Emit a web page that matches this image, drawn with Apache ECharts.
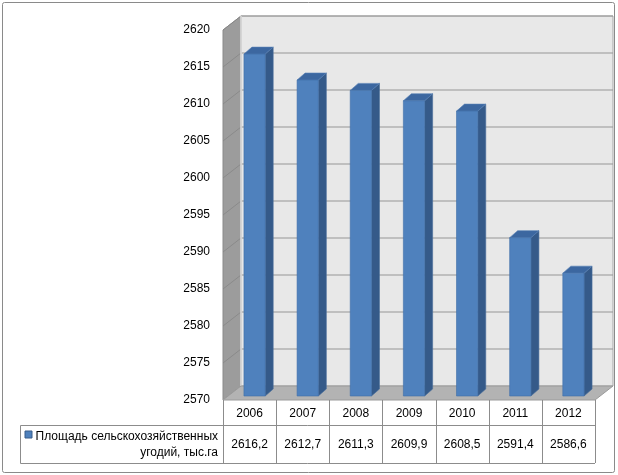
<!DOCTYPE html>
<html><head><meta charset="utf-8">
<script src="https://cdn.jsdelivr.net/npm/echarts@6/dist/echarts.min.js"></script>
<style>html,body{margin:0;padding:0;background:#fff}#c{width:618px;height:475px}</style>
</head><body><div id="c"></div>
<script>
const years = ['2006', '2007', '2008', '2009', '2010', '2011', '2012'];
const values = [2616.2, 2612.7, 2611.3, 2609.9, 2608.5, 2591.4, 2586.6];
const valueLabels = ['2616,2', '2612,7', '2611,3', '2609,9', '2608,5', '2591,4', '2586,6'];
const yTicks = [2570, 2575, 2580, 2585, 2590, 2595, 2600, 2605, 2610, 2615, 2620];
const seriesName = 'Площадь сельскохозяйственных\nугодий, тыс.га';

const yMin = 2570, yMax = 2620, yStep = 5;
const FONT = 'Liberation Sans';
const DX = 18, DY = -14;
const LINE = '#8C8C8C';

const chart = echarts.init(document.getElementById('c'), null, {renderer: 'canvas'});

function renderBg(params, api) {
  const cs = params.coordSys;
  const x0 = cs.x, y0 = cs.y, x1 = cs.x + cs.width, y1 = cs.y + cs.height;
  const bw = api.size([1, 0])[0];
  const ch = [];
  ch.push({type: 'rect', shape: {x: x0 + DX, y: y0 + DY, width: cs.width, height: cs.height},
    style: {fill: '#E8E8E8', stroke: '#A8A8A8', lineWidth: 1}});
  ch.push({type: 'polygon', shape: {points: [[x0, y0], [x0 + DX, y0 + DY], [x0 + DX, y1 + DY], [x0, y1]]},
    style: {fill: '#9C9C9C', stroke: '#8A8A8A', lineWidth: 1}});
  yTicks.forEach(function (v) {
    const y = api.coord([0, v])[1];
    if (v > yMin) {
      ch.push({type: 'line', shape: {x1: x0 + DX, y1: y + DY, x2: x1 + DX, y2: y + DY},
        style: {stroke: '#969696', lineWidth: 1.2}});
      ch.push({type: 'line', shape: {x1: x0, y1: y, x2: x0 + DX, y2: y + DY},
        style: {stroke: '#858585', lineWidth: 0.8}});
    }
  });
  ch.push({type: 'line', shape: {x1: x0 + DX, y1: y0 + DY, x2: x0 + DX, y2: y1 + DY},
    style: {stroke: '#F4F4F4', lineWidth: 1.2}});
  ch.push({type: 'polygon', shape: {points: [[x0, y1], [x0 + DX, y1 + DY], [x1 + DX, y1 + DY], [x1, y1]]},
    style: {fill: '#B3B3B3', stroke: '#9A9A9A', lineWidth: 1}});
  // data table grid
  const rowTop = y1, rowMid = y1 + 25, rowBot = y1 + 63;
  for (let k = 0; k <= years.length; k++) {
    const x = Math.round(x0 + k * bw) + 0.5;
    ch.push({type: 'line', shape: {x1: x, y1: rowTop, x2: x, y2: rowBot}, style: {stroke: LINE, lineWidth: 1}});
  }
  ch.push({type: 'line', shape: {x1: 20.5, y1: rowMid + 0.5, x2: x1, y2: rowMid + 0.5}, style: {stroke: LINE, lineWidth: 1}});
  ch.push({type: 'line', shape: {x1: 20.5, y1: rowBot + 0.5, x2: x1, y2: rowBot + 0.5}, style: {stroke: LINE, lineWidth: 1}});
  ch.push({type: 'line', shape: {x1: 20.5, y1: rowMid + 0.5, x2: 20.5, y2: rowBot + 0.5}, style: {stroke: LINE, lineWidth: 1}});
  return {type: 'group', children: ch};
}

function renderBar(params, api) {
  const i = api.value(0), v = api.value(1);
  const top = api.coord([i, v]);
  const base = api.coord([i, yMin]);
  const bw = api.size([1, 0])[0];
  const cs = params.coordSys;
  const y1 = cs.y + cs.height;
  const fw = bw * 0.4, ox = 5, oy = -4, bx = 8, by = -7;
  const l = top[0] - fw / 2 + ox, r = l + fw, t = top[1] + oy, b = base[1] + oy;
  return {type: 'group', children: [
    {type: 'polygon', shape: {points: [[r, t], [r + bx, t + by], [r + bx, b + by], [r, b]]},
      style: {fill: '#355A89', stroke: '#4A6F9C', lineWidth: 0.6}},
    {type: 'polygon', shape: {points: [[l, t], [l + bx, t + by], [r + bx, t + by], [r, t]]},
      style: {fill: '#3C67A0', stroke: '#5580B5', lineWidth: 0.6}},
    {type: 'rect', shape: {x: l, y: t, width: fw, height: b - t},
      style: {fill: '#4F81BD', stroke: '#3F6EA8', lineWidth: 0.6}},
    {type: 'text', x: top[0], y: y1 + 14,
      style: {text: years[i], fontFamily: FONT, fontSize: 12, fill: '#000', align: 'center', verticalAlign: 'middle'}},
    {type: 'text', x: top[0], y: y1 + 45,
      style: {text: valueLabels[i], fontFamily: FONT, fontSize: 12, fill: '#000', align: 'center', verticalAlign: 'middle'}}
  ]};
}

chart.setOption({
  animation: false,
  grid: {left: 223, right: 23, top: 30, bottom: 75, containLabel: false, outerBoundsMode: 'none'},
  xAxis: {type: 'category', data: years, axisLabel: {show: false}, axisLine: {show: false},
    axisTick: {show: false}, splitLine: {show: false}},
  yAxis: {type: 'value', min: yMin, max: yMax, interval: yStep,
    axisLine: {show: false}, axisTick: {show: false}, splitLine: {show: false},
    axisLabel: {margin: 13, fontFamily: FONT, fontSize: 12, color: '#000',
      formatter: function (v) { return String(v); }}},
  graphic: [
    {type: 'rect', shape: {x: 2.5, y: 2.5, width: 612, height: 470, r: 2},
      style: {fill: 'none', stroke: '#8A8A8A', lineWidth: 1}, z: 100},
    {type: 'rect', shape: {x: 25, y: 431, width: 7, height: 7},
      style: {fill: '#4F81BD', stroke: '#385D8A', lineWidth: 1}, z: 100},
    {type: 'text', x: 218, y: 445, z: 100,
      style: {text: seriesName, fontFamily: FONT, fontSize: 12, fill: '#000', align: 'right',
        verticalAlign: 'middle', lineHeight: 16}}
  ],
  series: [
    {type: 'custom', name: 'bg', renderItem: renderBg, data: [[0, yMin]], clip: false, z: 1, silent: true},
    {type: 'custom', name: seriesName, renderItem: renderBar, data: values.map(function (v, i) { return [i, v]; }),
      clip: false, z: 2}
  ]
});
</script>
</body></html>
